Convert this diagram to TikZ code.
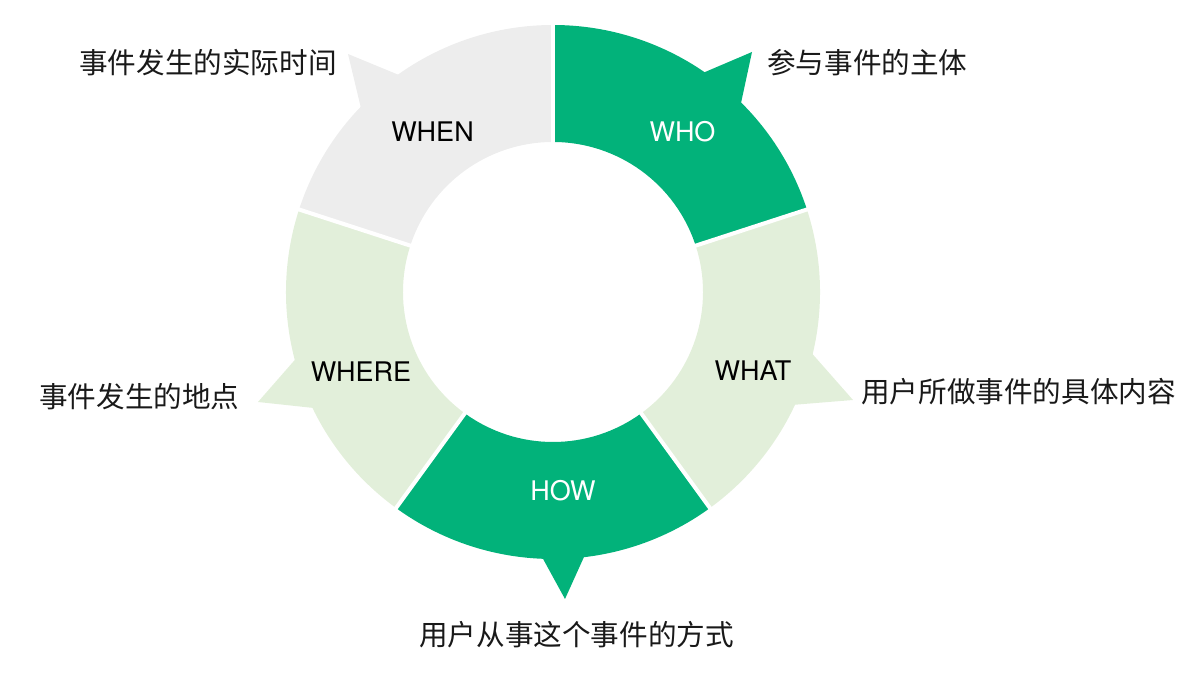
\documentclass[tikz,border=0pt]{standalone}
\usepackage{fontspec}
\newfontfamily\cjk{Noto Sans CJK SC}
\newfontfamily\lab{TeX Gyre Heros}
\definecolor{dgreen}{RGB}{2,178,122}
\definecolor{lgreen}{RGB}{226,239,218}
\definecolor{lgray}{RGB}{237,237,237}
\tikzset{
  seglabel/.style={font=\lab\fontsize{27}{27}\selectfont, inner sep=0pt, anchor=center},
  desc/.style={font=\cjk\fontsize{28.6}{28.6}\selectfont, inner sep=0pt, anchor=west, text=black!90},
  gap/.style={draw=white, line width=4pt},
}
\newcommand{\ringseg}[4]{% color, start angle, end angle (clockwise), unused
  \fill[#1] (#2:150pt) -- (#2:267pt) arc[start angle=#2, end angle=#3, radius=267pt]
    -- (#3:150pt) arc[start angle=#3, end angle=#2, radius=150pt] -- cycle;}
\begin{document}
\begin{tikzpicture}[x=1pt,y=1pt]
\useasboundingbox (0,0) rectangle (1192,680);
\begin{scope}[shift={(553,388)}]
  % segments
  \ringseg{dgreen}{90}{18}{}
  \ringseg{lgreen}{18}{-54}{}
  \ringseg{dgreen}{-54}{-126}{}
  \ringseg{lgreen}{-126}{-198}{}
  \ringseg{lgray}{162}{90}{}
  % pointer tips
  \coordinate (tWHO) at (199,240);
  \coordinate (tWHAT) at (300,-108);
  \coordinate (tHOW) at (12,-307);
  \coordinate (tWHERE) at (-295,-110);
  \coordinate (tWHEN) at (-205,238);
  \fill[dgreen] (44.5:262pt) -- (tWHO) -- (56.1:262pt) -- cycle;
  \fill[lgreen] (-12.7:262pt) -- (tWHAT) -- (-25.6:262pt) -- cycle;
  \fill[dgreen] (-92.8:262pt) -- (tHOW) -- (-82.7:262pt) -- cycle;
  \fill[lgreen] (194:262pt) -- (tWHERE) -- (206.4:262pt) -- cycle;
  \fill[lgray] (124.8:262pt) -- (tWHEN) -- (136.8:262pt) -- cycle;
  % separators
  \foreach \a in {90,18,-54,-126,162}
    \draw[gap] (\a:145pt) -- (\a:272pt);
\end{scope}
% segment labels
\node[seglabel, text=white] (who) at (682.5,548) {WHO};
\node[seglabel, text=black] (when) at (432.5,548) {WHEN};
\node[seglabel, text=black] (what) at (753,309.5) {WHAT};
\node[seglabel, text=white] (how) at (563,189.5) {HOW};
\node[seglabel, text=black] (where) at (361,308) {WHERE};
% descriptions
\node[desc] (dwhen) at (79,617) {事件发生的实际时间};
\node[desc] (dwho) at (767,617) {参与事件的主体};
\node[desc] (dwhat) at (861,288) {用户所做事件的具体内容};
\node[desc] (dhow) at (419,45) {用户从事这个事件的方式};
\node[desc] (dwhere) at (39,283) {事件发生的地点};
\end{tikzpicture}
\end{document}
